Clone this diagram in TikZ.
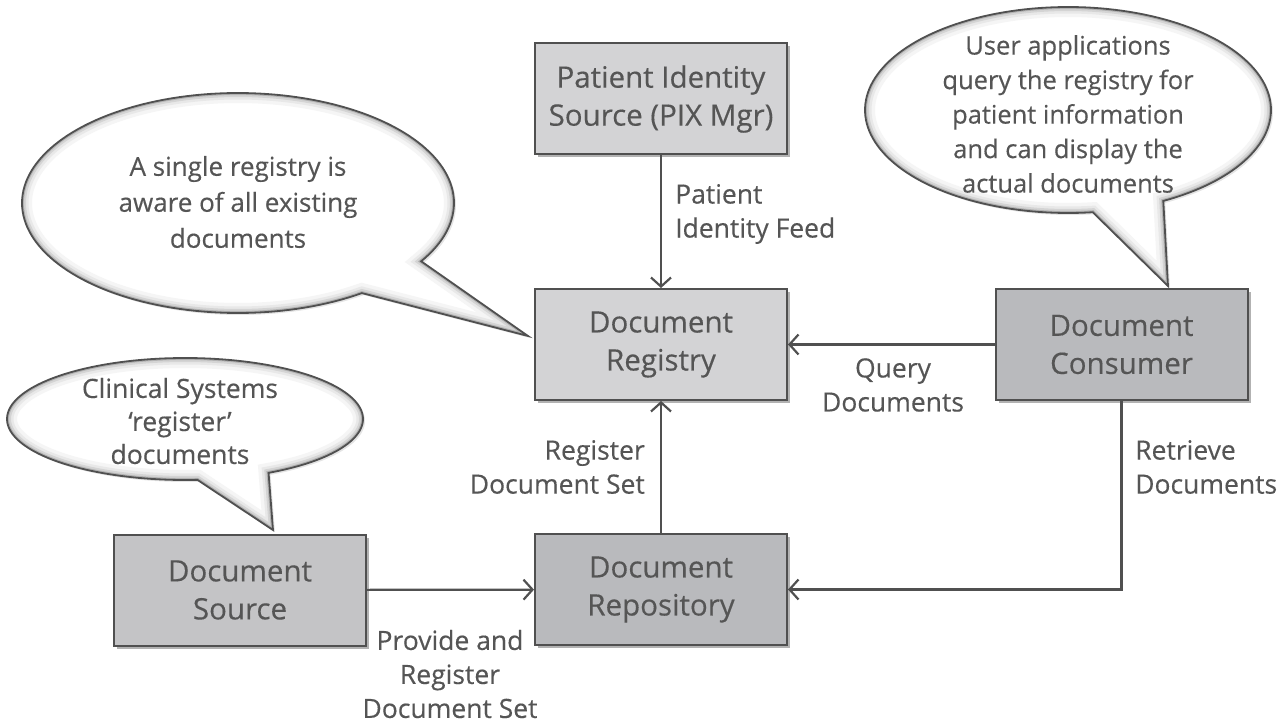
\documentclass[tikz,border=0pt]{standalone}
\usepackage{fontspec}
\setmainfont[FakeBold=0.35]{Open Sans}
\usetikzlibrary{arrows.meta,shadows}
\definecolor{txt}{HTML}{555555}
\definecolor{edge}{HTML}{505050}
\definecolor{lightbox}{HTML}{D3D3D5}
\definecolor{darkbox}{HTML}{B9BABD}
\definecolor{midbox}{HTML}{C4C4C6}
\newcommand\mybubble[8]{%
  \def\bpath{(#7,#8) -- plot[domain=#5:#6,samples=160,variable=\t] ({#1+#3*cos(\t)},{#2+#4*sin(\t)}) -- cycle}%
  \fill[black!30,opacity=0.35,xshift=2pt,yshift=-2pt] \bpath;
  \fill[white] \bpath;
  \begin{scope}
    \clip \bpath;
    \draw[line width=20pt,black!4] \bpath;
    \draw[line width=13pt,black!9] \bpath;
    \draw[line width=8pt,black!17] \bpath;
    \draw[line width=4pt,black!30] \bpath;
  \end{scope}
  \draw[edge,line width=1.8pt,line join=miter] \bpath;
}
\begin{document}
\begin{tikzpicture}[x=1pt,y=-1pt,
  box/.style={draw=edge, line width=2pt, text=txt, align=center,
    minimum width=252pt, minimum height=111pt, inner sep=0pt,
    font=\fontsize{29.5}{38}\selectfont,
    drop shadow={shadow xshift=3pt, shadow yshift=-3pt, fill=black, opacity=0.3}},
  lbl/.style={text=txt, font=\fontsize{26.5}{34}\selectfont, inner sep=0pt},
  btxt/.style={text=txt, inner sep=0pt, align=center},
  conn/.style={draw=edge, line width=2.2pt, -{Straight Barb[length=9pt,width=20pt]}}
]
\useasboundingbox (0,0) rectangle (1283,722);

% callouts
\mybubble{238}{203}{216}{110}{55}{392}{528}{336}
\mybubble{1068}{110}{203}{103}{83}{422}{1168}{286}
\mybubble{185}{419}{178}{61}{86}{422}{273}{530}

\node[btxt, font=\fontsize{26}{36}\selectfont] (c1) at (238,202) {A single registry is\\aware of all existing\\documents};
\node[btxt, font=\fontsize{25.5}{34.5}\selectfont] (c2) at (1068,114) {User applications\\query the registry for\\patient information\\and can display the\\actual documents};
\node[btxt, font=\fontsize{26.5}{33}\selectfont] (c3) at (180,421) {Clinical Systems\\‘register’\\documents};

% boxes
\node[box, fill=lightbox] (pix) at (661,99) {Patient Identity\\Source (PIX Mgr)};
\node[box, fill=lightbox] (reg) at (661,344.5) {Document\\Registry};
\node[box, fill=darkbox] (repo) at (661,589.5) {Document\\Repository};
\node[box, fill=darkbox] (cons) at (1121.5,344.5) {Document\\Consumer};
\node[box, fill=midbox] (src) at (240,590) {Document\\Source};

% connectors
\draw[conn] (pix) -- (reg);
\draw[conn] (repo) -- (reg);
\draw[conn] (cons) -- (reg);
\draw[conn] (src) -- (repo);
\draw[conn] (cons.south) |- (repo.east);

% labels
\node[lbl, anchor=west, align=left] (l1) at (675,214) {Patient\\Identity Feed};
\node[lbl, align=center] (l2) at (893,385) {Query\\Documents};
\node[lbl, anchor=east, align=right] (l3) at (645,467) {Register\\Document Set};
\node[lbl, align=center] (l4) at (450,674) {Provide and\\Register\\Document Set};
\node[lbl, anchor=west, align=left] (l5) at (1135,467) {Retrieve\\Documents};
\end{tikzpicture}
\end{document}
